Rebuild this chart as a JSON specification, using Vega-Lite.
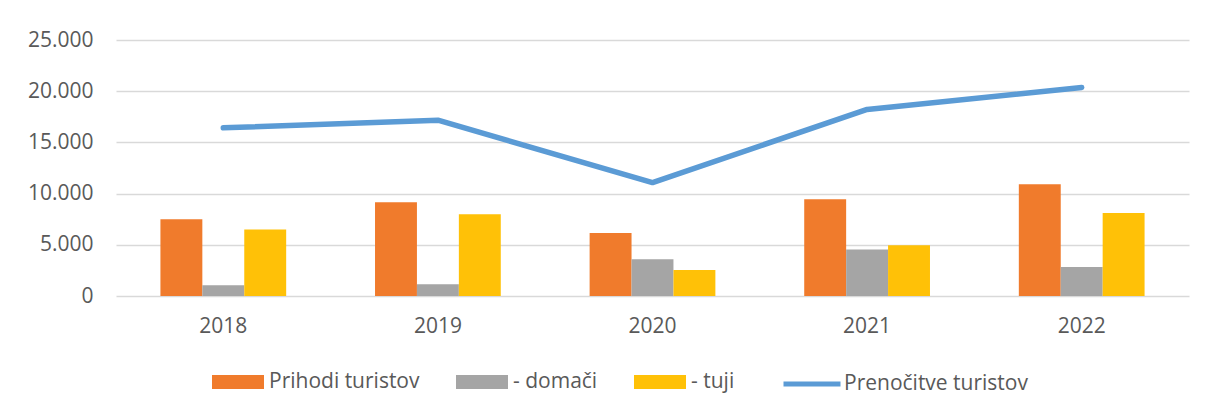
{
  "$schema": "https://vega.github.io/schema/vega-lite/v6.json",
  "autosize": "none",
  "width": 1073,
  "height": 256,
  "padding": {"left": 116, "top": 40, "right": 19, "bottom": 116},
  "background": "white",
  "config": {
    "font": "Open Sans",
    "view": {"stroke": null},
    "axis": {"labelFont": "Open Sans", "labelFontSize": 21, "labelColor": "#595959", "titleColor": "#595959"},
    "legend": {"labelFont": "Open Sans", "labelFontSize": 21, "labelColor": "#595959", "labelLimit": 400}
  },
  "datasets": {
    "bars": [
      {"year": "2018", "series": "Prihodi turistov", "value": 7500},
      {"year": "2018", "series": "- domači", "value": 1050},
      {"year": "2018", "series": "- tuji", "value": 6490},
      {"year": "2019", "series": "Prihodi turistov", "value": 9160},
      {"year": "2019", "series": "- domači", "value": 1150},
      {"year": "2019", "series": "- tuji", "value": 7990},
      {"year": "2020", "series": "Prihodi turistov", "value": 6160},
      {"year": "2020", "series": "- domači", "value": 3590},
      {"year": "2020", "series": "- tuji", "value": 2550},
      {"year": "2021", "series": "Prihodi turistov", "value": 9450},
      {"year": "2021", "series": "- domači", "value": 4530},
      {"year": "2021", "series": "- tuji", "value": 4960},
      {"year": "2022", "series": "Prihodi turistov", "value": 10920},
      {"year": "2022", "series": "- domači", "value": 2840},
      {"year": "2022", "series": "- tuji", "value": 8110}
    ],
    "line": [
      {"year": "2018", "series": "Prenočitve turistov", "value": 16420},
      {"year": "2019", "series": "Prenočitve turistov", "value": 17170},
      {"year": "2020", "series": "Prenočitve turistov", "value": 11080},
      {"year": "2021", "series": "Prenočitve turistov", "value": 18220},
      {"year": "2022", "series": "Prenočitve turistov", "value": 20370}
    ]
  },
  "layer": [
    {
      "data": {"name": "bars"},
      "mark": {"type": "bar"},
      "encoding": {
        "x": {
          "field": "year", "type": "nominal",
          "scale": {"paddingInner": 0.414, "paddingOuter": 0.207},
          "axis": {"title": null, "labelAngle": 0, "domain": false, "ticks": false, "labelPadding": 19}
        },
        "xOffset": {
          "field": "series", "type": "nominal",
          "sort": ["Prihodi turistov", "- domači", "- tuji"],
          "scale": {"paddingInner": 0, "paddingOuter": 0}
        },
        "y": {
          "field": "value", "type": "quantitative",
          "scale": {"domain": [0, 25000], "nice": false},
          "axis": {
            "title": null, "values": [0, 5000, 10000, 15000, 20000, 25000],
            "domain": false, "ticks": false, "labelPadding": 23,
            "gridColor": "#D9D9D9", "gridWidth": 1.5,
            "labelExpr": "replace(format(datum.value, ','), ',', '.')"
          }
        },
        "fill": {
          "field": "series", "type": "nominal",
          "sort": ["Prihodi turistov", "- domači", "- tuji"],
          "scale": {"domain": ["Prihodi turistov", "- domači", "- tuji"], "range": ["#F07B2C", "#A5A5A5", "#FFC107"]},
          "legend": {
            "title": null, "orient": "none", "direction": "horizontal",
            "legendX": 96, "legendY": 316,
            "symbolType": "M-1,-0.27H1V0.27H-1Z", "symbolSize": 2704,
            "symbolStrokeWidth": 0, "labelOffset": 5, "columnPadding": 36
          }
        }
      }
    },
    {
      "data": {"name": "line"},
      "mark": {"type": "line", "strokeWidth": 5.5, "strokeCap": "round", "strokeJoin": "round"},
      "encoding": {
        "x": {"field": "year", "type": "nominal"},
        "y": {"field": "value", "type": "quantitative"},
        "stroke": {
          "field": "series", "type": "nominal",
          "scale": {"domain": ["Prenočitve turistov"], "range": ["#5B9BD5"]},
          "legend": {
            "title": null, "orient": "none",
            "legendX": 665, "legendY": 313,
            "symbolType": "stroke", "symbolSize": 3249, "symbolStrokeWidth": 5,
            "labelOffset": 1
          }
        }
      }
    }
  ]
}
